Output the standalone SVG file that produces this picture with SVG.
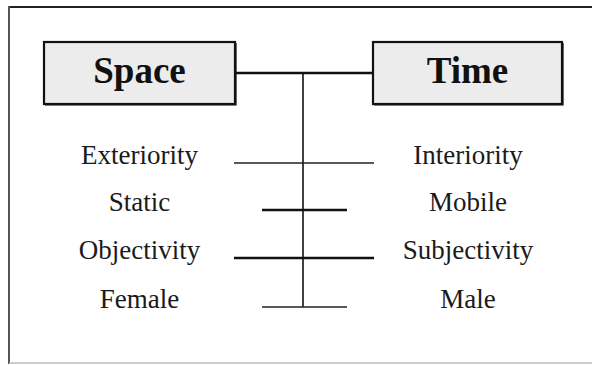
<svg xmlns="http://www.w3.org/2000/svg" width="592" height="365" viewBox="0 0 592 365">
<style>
.box{fill:#ececec;stroke:#111;stroke-width:2.2}
.shadow{stroke:#111;stroke-width:1.2;fill:none}
.title{font-family:"Liberation Serif",serif;font-weight:bold;font-size:37px;fill:#111;text-anchor:middle}
.lbl{font-family:"Liberation Serif",serif;font-size:27px;fill:#1a1a1a;text-anchor:middle}
.thin{stroke:#222;stroke-width:1.3}
.thick{stroke:#111;stroke-width:2.6}
</style>
<rect x="0" y="0" width="592" height="365" fill="#fff"/>
<g id="frame">
<line x1="9" y1="7" x2="592" y2="7" stroke="#222" stroke-width="2"/>
<line x1="9" y1="6" x2="9" y2="364" stroke="#555" stroke-width="2"/>
<line x1="9" y1="363" x2="592" y2="363" stroke="#bbb" stroke-width="1.5"/>
</g>
<g id="connectors">
<line x1="236" y1="73" x2="373" y2="73" stroke="#111" stroke-width="2.4"/>
<line x1="303" y1="73" x2="303" y2="307" stroke="#111" stroke-width="1.6"/>
<line class="thin" x1="234" y1="163" x2="374" y2="163"/>
<line class="thick" x1="262" y1="210" x2="347" y2="210"/>
<line class="thick" x1="234" y1="258" x2="374" y2="258"/>
<line class="thin" x1="262" y1="307" x2="347" y2="307" style="stroke-width:1.6"/>
</g>
<g id="space">
<rect class="box" x="44" y="42" width="191" height="62"/>
<path class="shadow" d="M236,43 V105 H45"/>
<text class="title" x="139.5" y="83">Space</text>
</g>
<g id="time">
<rect class="box" x="373" y="42" width="189" height="62"/>
<path class="shadow" d="M563,43 V105 H374"/>
<text class="title" x="467.5" y="83">Time</text>
</g>
<g id="labels-left">
<text class="lbl" x="139.5" y="164">Exteriority</text>
<text class="lbl" x="139.5" y="211">Static</text>
<text class="lbl" x="139.5" y="259">Objectivity</text>
<text class="lbl" x="139.5" y="308">Female</text>
</g>
<g id="labels-right">
<text class="lbl" x="468" y="164">Interiority</text>
<text class="lbl" x="468" y="211">Mobile</text>
<text class="lbl" x="468" y="259">Subjectivity</text>
<text class="lbl" x="468" y="308">Male</text>
</g>
</svg>
